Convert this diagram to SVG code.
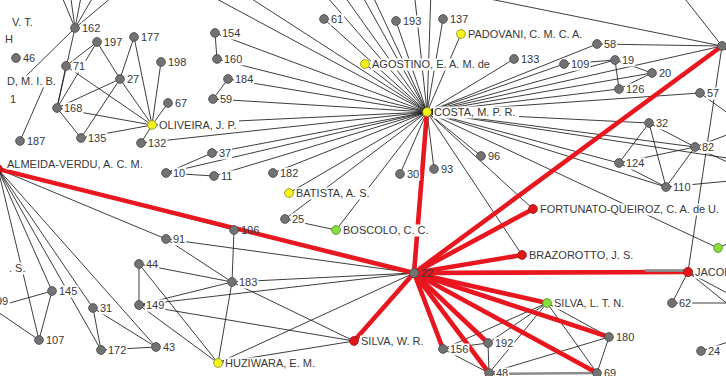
<svg xmlns="http://www.w3.org/2000/svg" width="726" height="376" viewBox="0 0 726 376">
<style>
  .e line { stroke:#1a1a1a; stroke-width:0.85; fill:none; }
  .r line { stroke:#e8161e; stroke-width:4.6; }
  line.gw { stroke:#8a8a8a !important; stroke-width:2.6 !important; }
  text { font-family:"Liberation Sans", Arial, sans-serif; font-size:11px; fill:#383838; }
  rect.lb { fill:#ffffff; }
  circle { stroke:#474747; stroke-width:0.8; }
  .gy circle { fill:#727272; }
  .yl circle { fill:#f4f41a; stroke:#8a8a20; }
  .gn circle { fill:#86e03a; stroke:#4d8a20; }
  .rd circle { fill:#e01818; stroke:#901010; }
</style>
<rect x="0" y="0" width="726" height="376" fill="#ffffff"/>

<!-- thin ties -->
<g id="connectors">
<g class="e">
  <!-- COSTA hub -->
  <line x1="427" y1="112" x2="324" y2="19"/>
  <line x1="427" y1="112" x2="396" y2="21"/>
  <line x1="427" y1="112" x2="443" y2="19"/>
  <line x1="427" y1="112" x2="461" y2="34"/>
  <line x1="427" y1="112" x2="365" y2="64"/>
  <line x1="427" y1="112" x2="215" y2="33"/>
  <line x1="427" y1="112" x2="217" y2="59"/>
  <line x1="427" y1="112" x2="228" y2="79"/>
  <line x1="427" y1="112" x2="213" y2="99"/>
  <line x1="427" y1="112" x2="152" y2="125"/>
  <line x1="427" y1="112" x2="141" y2="143"/>
  <line x1="427" y1="112" x2="212" y2="153"/>
  <line x1="427" y1="112" x2="166" y2="173"/>
  <line x1="427" y1="112" x2="214" y2="176"/>
  <line x1="427" y1="112" x2="273" y2="173"/>
  <line x1="427" y1="112" x2="289" y2="193"/>
  <line x1="427" y1="112" x2="285" y2="219"/>
  <line x1="427" y1="112" x2="336" y2="230"/>
  <line x1="427" y1="112" x2="400" y2="174"/>
  <line x1="427" y1="112" x2="434" y2="169"/>
  <line x1="427" y1="112" x2="481" y2="156"/>
  <line x1="427" y1="112" x2="533" y2="209"/>
  <line x1="427" y1="112" x2="522" y2="255"/>
  <line x1="427" y1="112" x2="718" y2="248"/>
  <line x1="427" y1="112" x2="666" y2="187"/>
  <line x1="427" y1="112" x2="619" y2="163"/>
  <line x1="427" y1="112" x2="695" y2="147"/>
  <line x1="427" y1="112" x2="740" y2="160"/>
  <line x1="427" y1="112" x2="649" y2="123"/>
  <line x1="427" y1="112" x2="700" y2="93"/>
  <line x1="427" y1="112" x2="619" y2="89"/>
  <line x1="427" y1="112" x2="652" y2="73"/>
  <line x1="427" y1="112" x2="615" y2="60"/>
  <line x1="427" y1="112" x2="564" y2="64"/>
  <line x1="427" y1="112" x2="514" y2="59"/>
  <line x1="427" y1="112" x2="597" y2="44"/>
  <line x1="427" y1="112" x2="722" y2="46"/>
  <line x1="427" y1="112" x2="200" y2="-10"/>
  <line x1="427" y1="112" x2="238" y2="-10"/>
  <line x1="427" y1="112" x2="321" y2="-10"/>
  <line x1="427" y1="112" x2="340" y2="-10"/>
  <line x1="427" y1="112" x2="359" y2="-10"/>
  <line x1="427" y1="112" x2="370" y2="-10"/>
  <line x1="427" y1="112" x2="414" y2="-10"/>
  <line x1="427" y1="112" x2="431" y2="-10"/>
  <!-- upper right -->
  <line x1="722" y1="46" x2="597" y2="44"/>
  <line x1="722" y1="46" x2="470" y2="-5"/>
  <line x1="722" y1="46" x2="682" y2="-5"/>
  <line x1="722" y1="46" x2="740" y2="64"/>
  <line x1="722" y1="46" x2="688" y2="272"/>
  <line x1="700" y1="93" x2="740" y2="122"/>
  <line x1="564" y1="64" x2="615" y2="60"/>
  <line x1="615" y1="60" x2="619" y2="89"/>
  <line x1="615" y1="60" x2="652" y2="73"/>
  <line x1="619" y1="89" x2="652" y2="73"/>
  <line x1="649" y1="123" x2="619" y2="163"/>
  <line x1="649" y1="123" x2="666" y2="187"/>
  <line x1="649" y1="123" x2="695" y2="147"/>
  <line x1="619" y1="163" x2="695" y2="147"/>
  <line x1="619" y1="163" x2="666" y2="187"/>
  <line x1="666" y1="187" x2="695" y2="147"/>
  <line x1="695" y1="147" x2="740" y2="130"/>
  <line x1="695" y1="147" x2="740" y2="168"/>
  <line x1="666" y1="187" x2="740" y2="180"/>
  <line x1="688" y1="272" x2="672" y2="303"/>
  <line x1="672" y1="303" x2="740" y2="303"/>
  <line x1="688" y1="272" x2="740" y2="300"/>
  <line x1="688" y1="272" x2="740" y2="314"/>
  <line x1="701" y1="351" x2="740" y2="338"/>
  <line x1="718" y1="248" x2="740" y2="238"/>
  <!-- upper left -->
  <line x1="75" y1="28" x2="60" y2="-8"/>
  <line x1="75" y1="28" x2="70" y2="-8"/>
  <line x1="75" y1="28" x2="82" y2="-8"/>
  <line x1="75" y1="28" x2="96" y2="-8"/>
  <line x1="75" y1="28" x2="118" y2="-8"/>
  <line x1="75" y1="28" x2="22" y2="80"/>
  <line x1="75" y1="28" x2="57" y2="108"/>
  <line x1="20" y1="141" x2="45" y2="84"/>
  <line x1="97" y1="42" x2="66" y2="66"/>
  <line x1="97" y1="42" x2="57" y2="108"/>
  <line x1="97" y1="42" x2="120" y2="79"/>
  <line x1="66" y1="66" x2="57" y2="108"/>
  <line x1="66" y1="66" x2="152" y2="125"/>
  <line x1="120" y1="79" x2="57" y2="108"/>
  <line x1="120" y1="79" x2="81" y2="138"/>
  <line x1="120" y1="79" x2="152" y2="125"/>
  <line x1="134" y1="37" x2="120" y2="79"/>
  <line x1="134" y1="37" x2="152" y2="125"/>
  <line x1="161" y1="62" x2="152" y2="125"/>
  <line x1="168" y1="103" x2="152" y2="125"/>
  <line x1="57" y1="108" x2="152" y2="125"/>
  <line x1="57" y1="108" x2="81" y2="138"/>
  <line x1="81" y1="138" x2="152" y2="125"/>
  <line x1="141" y1="143" x2="152" y2="125"/>
  <line x1="215" y1="33" x2="217" y2="59"/>
  <line x1="228" y1="79" x2="213" y2="99"/>
  <line x1="166" y1="173" x2="212" y2="153"/>
  <line x1="166" y1="173" x2="214" y2="176"/>
  <line x1="285" y1="219" x2="336" y2="230"/>
  <!-- lower left -->
  <line x1="-2" y1="169" x2="234" y2="230"/>
  <line x1="-2" y1="169" x2="166" y2="239"/>
  <line x1="-2" y1="169" x2="39" y2="340"/>
  <line x1="-2" y1="169" x2="52" y2="291"/>
  <line x1="-2" y1="169" x2="101" y2="350"/>
  <line x1="-2" y1="169" x2="93" y2="308"/>
  <line x1="-2" y1="169" x2="156" y2="347"/>
  <line x1="-8" y1="308" x2="52" y2="291"/>
  <line x1="-8" y1="308" x2="39" y2="340"/>
  <line x1="52" y1="291" x2="39" y2="340"/>
  <line x1="93" y1="308" x2="101" y2="350"/>
  <line x1="93" y1="308" x2="156" y2="347"/>
  <line x1="101" y1="350" x2="156" y2="347"/>
  <line x1="234" y1="230" x2="232" y2="282"/>
  <line x1="166" y1="239" x2="232" y2="282"/>
  <line x1="166" y1="239" x2="414" y2="273"/>
  <line x1="139" y1="264" x2="139" y2="305"/>
  <line x1="139" y1="264" x2="232" y2="282"/>
  <line x1="139" y1="305" x2="232" y2="282"/>
  <line x1="139" y1="264" x2="218" y2="363"/>
  <line x1="139" y1="305" x2="218" y2="363"/>
  <line x1="139" y1="305" x2="354" y2="341"/>
  <line x1="139" y1="305" x2="414" y2="273"/>
  <line x1="232" y1="282" x2="414" y2="273"/>
  <line x1="232" y1="282" x2="218" y2="363"/>
  <line x1="232" y1="282" x2="354" y2="341"/>
  <line x1="218" y1="363" x2="414" y2="273"/>
  <line x1="218" y1="363" x2="354" y2="341"/>
  <!-- lower right -->
  <line x1="547" y1="303" x2="443" y2="349"/>
  <line x1="547" y1="303" x2="488" y2="343"/>
  <line x1="547" y1="303" x2="489" y2="373"/>
  <line x1="547" y1="303" x2="609" y2="337"/>
  <line x1="547" y1="303" x2="597" y2="373"/>
  <line x1="609" y1="337" x2="597" y2="373"/>
  <line x1="609" y1="337" x2="489" y2="373"/>
  <line x1="488" y1="343" x2="489" y2="373"/>
  <line x1="443" y1="349" x2="488" y2="343"/>
  <line x1="443" y1="349" x2="489" y2="373"/>
  <line class="gw" x1="489" y1="374" x2="597" y2="373"/>
</g>

<!-- heavy ties -->
<g class="r">
  <line x1="414" y1="273" x2="427" y2="112"/>
  <line x1="414" y1="273" x2="722" y2="46"/>
  <line x1="414" y1="273" x2="533" y2="209"/>
  <line x1="414" y1="273" x2="522" y2="255"/>
  <line x1="414" y1="273" x2="688" y2="272"/>
  <line x1="414" y1="273" x2="547" y2="303"/>
  <line x1="414" y1="273" x2="609" y2="337"/>
  <line x1="414" y1="273" x2="597" y2="373"/>
  <line x1="414" y1="273" x2="489" y2="373"/>
  <line x1="414" y1="273" x2="488" y2="343"/>
  <line x1="414" y1="273" x2="443" y2="349"/>
  <line x1="414" y1="273" x2="354" y2="341"/>
  <line x1="414" y1="273" x2="-2" y2="169"/>
  <line class="gw" x1="645" y1="270.6" x2="686" y2="270.6"/>
</g>
</g>

<!-- labels of actors outside the frame -->
<g id="edge-labels">
  <rect class="lb" x="11" y="16.5" width="30" height="12"/><text x="12" y="26">V. T.</text>
  <text x="5" y="43">H</text>
  <rect class="lb" x="6" y="75.5" width="52" height="12"/><text x="7" y="85">D, M. I. B.</text>
  <text x="10" y="103">1</text>
  <rect class="lb" x="8" y="262.5" width="22" height="12"/><text x="9" y="272">. S.</text>
  <rect class="lb" x="-4" y="295.5" width="14" height="12"/><text x="-4" y="305">99</text>
</g>

<!-- actors -->
<g id="n162" class="gy"><rect class="lb" x="81" y="22.5" width="20.4" height="12"/><text x="82" y="32">162</text><circle cx="75" cy="28" r="4.4"/></g>
<g id="n197" class="gy"><rect class="lb" x="103" y="36.5" width="20.4" height="12"/><text x="104" y="46">197</text><circle cx="97" cy="42" r="4.4"/></g>
<g id="n177" class="gy"><rect class="lb" x="140" y="31.5" width="20.4" height="12"/><text x="141" y="41">177</text><circle cx="134" cy="37" r="4.4"/></g>
<g id="n198" class="gy"><rect class="lb" x="167" y="56.5" width="20.4" height="12"/><text x="168" y="66">198</text><circle cx="161" cy="62" r="4.4"/></g>
<g id="n71" class="gy"><rect class="lb" x="72" y="60.5" width="14.2" height="12"/><text x="73" y="70">71</text><circle cx="66" cy="66" r="4.4"/></g>
<g id="n27" class="gy"><rect class="lb" x="126" y="73.5" width="14.2" height="12"/><text x="127" y="83">27</text><circle cx="120" cy="79" r="4.4"/></g>
<g id="n168" class="gy"><rect class="lb" x="63" y="102.5" width="20.4" height="12"/><text x="64" y="112">168</text><circle cx="57" cy="108" r="4.4"/></g>
<g id="n67" class="gy"><rect class="lb" x="174" y="97.5" width="14.2" height="12"/><text x="175" y="107">67</text><circle cx="168" cy="103" r="4.4"/></g>
<g id="n46" class="gy"><rect class="lb" x="22" y="52.5" width="14.2" height="12"/><text x="23" y="62">46</text><circle cx="16" cy="58" r="4.4"/></g>
<g id="n135" class="gy"><rect class="lb" x="87" y="132.5" width="20.4" height="12"/><text x="88" y="142">135</text><circle cx="81" cy="138" r="4.4"/></g>
<g id="n132" class="gy"><rect class="lb" x="147" y="137.5" width="20.4" height="12"/><text x="148" y="147">132</text><circle cx="141" cy="143" r="4.4"/></g>
<g id="n187" class="gy"><rect class="lb" x="26" y="135.5" width="20.4" height="12"/><text x="27" y="145">187</text><circle cx="20" cy="141" r="4.4"/></g>
<g id="n154" class="gy"><rect class="lb" x="221" y="27.5" width="20.4" height="12"/><text x="222" y="37">154</text><circle cx="215" cy="33" r="4.4"/></g>
<g id="n160" class="gy"><rect class="lb" x="223" y="53.5" width="20.4" height="12"/><text x="224" y="63">160</text><circle cx="217" cy="59" r="4.4"/></g>
<g id="n184" class="gy"><rect class="lb" x="234" y="73.5" width="20.4" height="12"/><text x="235" y="83">184</text><circle cx="228" cy="79" r="4.4"/></g>
<g id="n59" class="gy"><rect class="lb" x="219" y="93.5" width="14.2" height="12"/><text x="220" y="103">59</text><circle cx="213" cy="99" r="4.4"/></g>
<g id="n37" class="gy"><rect class="lb" x="218" y="147.5" width="14.2" height="12"/><text x="219" y="157">37</text><circle cx="212" cy="153" r="4.4"/></g>
<g id="n10" class="gy"><rect class="lb" x="172" y="167.5" width="14.2" height="12"/><text x="173" y="177">10</text><circle cx="166" cy="173" r="4.4"/></g>
<g id="n11" class="gy"><rect class="lb" x="220" y="170.5" width="14.2" height="12"/><text x="221" y="180">11</text><circle cx="214" cy="176" r="4.4"/></g>
<g id="n182" class="gy"><rect class="lb" x="279" y="167.5" width="20.4" height="12"/><text x="280" y="177">182</text><circle cx="273" cy="173" r="4.4"/></g>
<g id="n30" class="gy"><rect class="lb" x="406" y="168.5" width="14.2" height="12"/><text x="407" y="178">30</text><circle cx="400" cy="174" r="4.4"/></g>
<g id="n93" class="gy"><rect class="lb" x="440" y="163.5" width="14.2" height="12"/><text x="441" y="173">93</text><circle cx="434" cy="169" r="4.4"/></g>
<g id="n96" class="gy"><rect class="lb" x="487" y="150.5" width="14.2" height="12"/><text x="488" y="160">96</text><circle cx="481" cy="156" r="4.4"/></g>
<g id="n25" class="gy"><rect class="lb" x="291" y="213.5" width="14.2" height="12"/><text x="292" y="223">25</text><circle cx="285" cy="219" r="4.4"/></g>
<g id="n61" class="gy"><rect class="lb" x="330" y="13.5" width="14.2" height="12"/><text x="331" y="23">61</text><circle cx="324" cy="19" r="4.4"/></g>
<g id="n193" class="gy"><rect class="lb" x="402" y="15.5" width="20.4" height="12"/><text x="403" y="25">193</text><circle cx="396" cy="21" r="4.4"/></g>
<g id="n137" class="gy"><rect class="lb" x="449" y="13.5" width="20.4" height="12"/><text x="450" y="23">137</text><circle cx="443" cy="19" r="4.4"/></g>
<g id="n58" class="gy"><rect class="lb" x="603" y="38.5" width="14.2" height="12"/><text x="604" y="48">58</text><circle cx="597" cy="44" r="4.4"/></g>
<g id="n133" class="gy"><rect class="lb" x="520" y="53.5" width="20.4" height="12"/><text x="521" y="63">133</text><circle cx="514" cy="59" r="4.4"/></g>
<g id="n109" class="gy"><rect class="lb" x="570" y="58.5" width="20.4" height="12"/><text x="571" y="68">109</text><circle cx="564" cy="64" r="4.4"/></g>
<g id="n19" class="gy"><rect class="lb" x="621" y="54.5" width="14.2" height="12"/><text x="622" y="64">19</text><circle cx="615" cy="60" r="4.4"/></g>
<g id="n20" class="gy"><rect class="lb" x="658" y="67.5" width="14.2" height="12"/><text x="659" y="77">20</text><circle cx="652" cy="73" r="4.4"/></g>
<g id="n126" class="gy"><rect class="lb" x="625" y="83.5" width="20.4" height="12"/><text x="626" y="93">126</text><circle cx="619" cy="89" r="4.4"/></g>
<g id="n57" class="gy"><rect class="lb" x="706" y="87.5" width="14.2" height="12"/><text x="707" y="97">57</text><circle cx="700" cy="93" r="4.4"/></g>
<g id="nR" class="gy"><circle cx="722" cy="46" r="4.4"/></g>
<g id="n32" class="gy"><rect class="lb" x="655" y="117.5" width="14.2" height="12"/><text x="656" y="127">32</text><circle cx="649" cy="123" r="4.4"/></g>
<g id="n82" class="gy"><rect class="lb" x="701" y="141.5" width="14.2" height="12"/><text x="702" y="151">82</text><circle cx="695" cy="147" r="4.4"/></g>
<g id="n124" class="gy"><rect class="lb" x="625" y="157.5" width="20.4" height="12"/><text x="626" y="167">124</text><circle cx="619" cy="163" r="4.4"/></g>
<g id="n110" class="gy"><rect class="lb" x="672" y="181.5" width="20.4" height="12"/><text x="673" y="191">110</text><circle cx="666" cy="187" r="4.4"/></g>
<g id="n91" class="gy"><rect class="lb" x="172" y="233.5" width="14.2" height="12"/><text x="173" y="243">91</text><circle cx="166" cy="239" r="4.4"/></g>
<g id="n106" class="gy"><text x="241" y="234">106</text><circle cx="234" cy="230" r="4.4"/></g>
<g id="n44" class="gy"><rect class="lb" x="145" y="258.5" width="14.2" height="12"/><text x="146" y="268">44</text><circle cx="139" cy="264" r="4.4"/></g>
<g id="n149" class="gy"><rect class="lb" x="145" y="299.5" width="20.4" height="12"/><text x="146" y="309">149</text><circle cx="139" cy="305" r="4.4"/></g>
<g id="n183" class="gy"><rect class="lb" x="238" y="276.5" width="20.4" height="12"/><text x="239" y="286">183</text><circle cx="232" cy="282" r="4.4"/></g>
<g id="n145" class="gy"><rect class="lb" x="58" y="285.5" width="20.4" height="12"/><text x="59" y="295">145</text><circle cx="52" cy="291" r="4.4"/></g>
<g id="n31" class="gy"><rect class="lb" x="99" y="302.5" width="14.2" height="12"/><text x="100" y="312">31</text><circle cx="93" cy="308" r="4.4"/></g>
<g id="n107" class="gy"><rect class="lb" x="45" y="334.5" width="20.4" height="12"/><text x="46" y="344">107</text><circle cx="39" cy="340" r="4.4"/></g>
<g id="n172" class="gy"><rect class="lb" x="107" y="344.5" width="20.4" height="12"/><text x="108" y="354">172</text><circle cx="101" cy="350" r="4.4"/></g>
<g id="n43" class="gy"><rect class="lb" x="162" y="341.5" width="14.2" height="12"/><text x="163" y="351">43</text><circle cx="156" cy="347" r="4.4"/></g>
<g id="n156" class="gy"><rect class="lb" x="449" y="343.5" width="20.4" height="12"/><text x="450" y="353">156</text><circle cx="443" cy="349" r="4.4"/></g>
<g id="n192" class="gy"><rect class="lb" x="494" y="337.5" width="20.4" height="12"/><text x="495" y="347">192</text><circle cx="488" cy="343" r="4.4"/></g>
<g id="n48" class="gy"><rect class="lb" x="495" y="367.5" width="14.2" height="12"/><text x="496" y="377">48</text><circle cx="489" cy="373" r="4.4"/></g>
<g id="n180" class="gy"><rect class="lb" x="615" y="331.5" width="20.4" height="12"/><text x="616" y="341">180</text><circle cx="609" cy="337" r="4.4"/></g>
<g id="n69" class="gy"><rect class="lb" x="603" y="367.5" width="14.2" height="12"/><text x="604" y="377">69</text><circle cx="597" cy="373" r="4.4"/></g>
<g id="n62" class="gy"><rect class="lb" x="678" y="297.5" width="14.2" height="12"/><text x="679" y="307">62</text><circle cx="672" cy="303" r="4.4"/></g>
<g id="n24" class="gy"><rect class="lb" x="707" y="345.5" width="14.2" height="12"/><text x="708" y="355">24</text><circle cx="701" cy="351" r="4.4"/></g>
<g id="n22" class="gy"><text x="421" y="277">22</text><circle cx="414" cy="273" r="4.6"/></g>

<g id="oliveira" class="yl"><rect class="lb" x="158" y="119.5" width="81" height="12"/><text x="159" y="129">OLIVEIRA, J. P.</text><circle cx="152" cy="125" r="4.4"/></g>
<g id="agostino" class="yl"><rect class="lb" x="371" y="58.5" width="121" height="12"/><text x="372" y="68">AGOSTINO, E. A. M. de</text><circle cx="365" cy="64" r="4.4"/></g>
<g id="padovani" class="yl"><rect class="lb" x="467" y="28.5" width="119" height="12"/><text x="468" y="38">PADOVANI, C. M. C. A.</text><circle cx="461" cy="34" r="4.4"/></g>
<g id="costa" class="yl"><rect class="lb" x="433" y="106.5" width="86" height="12"/><text x="434" y="116">COSTA, M. P. R.</text><circle cx="427" cy="112" r="4.4"/></g>
<g id="batista" class="yl"><rect class="lb" x="295" y="187.5" width="78" height="12"/><text x="296" y="197">BATISTA, A. S.</text><circle cx="289" cy="193" r="4.4"/></g>
<g id="huziwara" class="yl"><rect class="lb" x="224" y="357.5" width="92" height="12"/><text x="225" y="367">HUZIWARA, E. M.</text><circle cx="218" cy="363" r="4.4"/></g>
<g id="boscolo" class="gn"><rect class="lb" x="342" y="224.5" width="88" height="12"/><text x="343" y="234">BOSCOLO, C. C.</text><circle cx="336" cy="230" r="4.4"/></g>
<g id="silva-ltn" class="gn"><rect class="lb" x="553" y="297.5" width="76" height="12"/><text x="554" y="307">SILVA, L. T. N.</text><circle cx="547" cy="303" r="4.4"/></g>
<g id="g-right" class="gn"><circle cx="718" cy="248" r="4.4"/></g>
<g id="fortunato" class="rd"><rect class="lb" x="539" y="203.5" width="182" height="12"/><text x="540" y="213" textLength="179" lengthAdjust="spacingAndGlyphs">FORTUNATO-QUEIROZ, C. A. de U.</text><circle cx="533" cy="209" r="4.4"/></g>
<g id="brazorotto" class="rd"><rect class="lb" x="528" y="249.5" width="106" height="12"/><text x="529" y="259">BRAZOROTTO, J. S.</text><circle cx="522" cy="255" r="4.4"/></g>
<g id="jacob" class="rd"><rect class="lb" x="694" y="266.5" width="40" height="12"/><text x="695" y="276">JACOB</text><circle cx="688" cy="272" r="4.6"/></g>
<g id="silva-wr" class="rd"><rect class="lb" x="360" y="335.5" width="67" height="12"/><text x="361" y="345">SILVA, W. R.</text><circle cx="354" cy="341" r="4.4"/></g>
<g id="almeida" class="rd"><rect class="lb" x="6" y="159" width="139" height="10.5"/><text x="7" y="168">ALMEIDA-VERDU, A. C. M.</text><circle cx="-2" cy="169" r="4.4"/></g>
</svg>
